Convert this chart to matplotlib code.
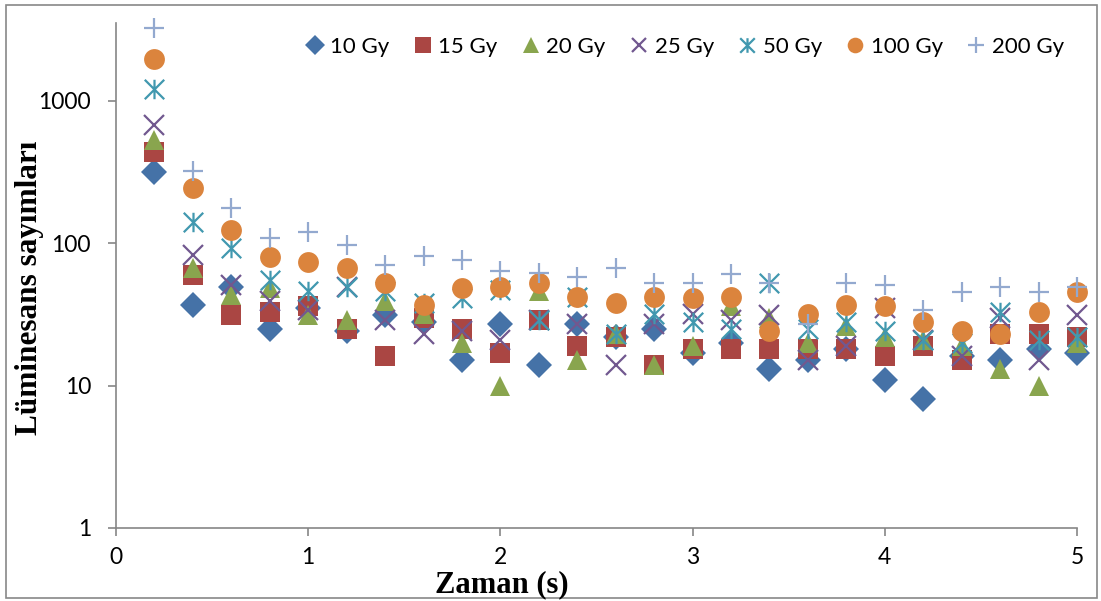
import matplotlib
matplotlib.use("Agg")
import matplotlib.pyplot as plt
from matplotlib.path import Path
from matplotlib.patches import Rectangle

# time axis (s)
time_s = [0.2, 0.4, 0.6, 0.8, 1.0, 1.2, 1.4, 1.6, 1.8, 2.0, 2.2, 2.4, 2.6,
          2.8, 3.0, 3.2, 3.4, 3.6, 3.8, 4.0, 4.2, 4.4, 4.6, 4.8, 5.0]

# luminescence counts per dose
gy10 = [316, 37, 49, 25, 35, 24, 31, 28, 15, 27, 14, 27, 22,
        25, 17, 20, 13, 15, 18, 11, 8, 16, 15, 18, 17]
gy15 = [437, 60, 31, 33, 36, 25, 16, 30, 25, 17, 29, 19, 22,
        14, 18, 18, 18, 18, 18, 16, 19, 15, 23, 23, 22]
gy20 = [528, 67, 43, 48, 31, 29, 39, 32, 20, 10, 46, 15, 23,
        14, 19, 36, 30, 20, 26, 22, 21, 19, 13, 10, 20]
gy25 = [673, 82, 51, 39, 34, 49, 29, 23, 24, 21, 29, 27, 14,
        27, 32, 29, 31, 15, 19, 35, 21, 16, 30, 15, 31]
gy50 = [1199, 141, 92, 55, 46, 49, 46, 38, 41, 47, 29, 42, 23,
        32, 28, 25, 52, 25, 28, 24, 21, 20, 33, 21, 22]
gy100 = [1955, 242, 123, 80, 73, 67, 52, 37, 48, 49, 52, 42, 38,
         42, 41, 42, 24, 32, 37, 36, 28, 24, 23, 33, 45]
gy200 = [3210, 322, 175, 108, 120, 97, 70, 81, 76, 64, 62, 58, 67,
         52, 52, 61, 52, 27, 52, 51, 34, 45, 49, 45, 49]

labels = ["10 Gy", "15 Gy", "20 Gy", "25 Gy", "50 Gy", "100 Gy", "200 Gy"]
y_ticks = [1, 10, 100, 1000]
x_ticks = [0, 1, 2, 3, 4, 5]

# Excel style asterisk: vertical bar plus an X
star = Path([(0, -1), (0, 1), (-1, -1), (1, 1), (-1, 1), (1, -1)],
            [Path.MOVETO, Path.LINETO, Path.MOVETO, Path.LINETO,
             Path.MOVETO, Path.LINETO])

styles = [
    dict(marker="D", color="#4572A7", ms=13),
    dict(marker="s", color="#AA4643", ms=14.5),
    dict(marker="^", color="#89A54E", ms=15),
    dict(marker="x", color="#71588F", ms=14, mew=1.6),
    dict(marker=star, color="#4198AF", ms=14, mew=1.6),
    dict(marker="o", color="#DB843D", ms=15),
    dict(marker="+", color="#93A9CF", ms=15, mew=1.6),
]

W, H = 1101, 601
fig = plt.figure(figsize=(W / 100, H / 100), dpi=100)
ax = fig.add_axes([116 / W, 1 - 528 / H, (1077 - 116) / W, (528 - 23) / H])

series = [gy10, gy15, gy20, gy25, gy50, gy100, gy200]
handles = []
for vals, lab, st in zip(series, labels, styles):
    h, = ax.plot(time_s, vals, linestyle="none", marker=st["marker"],
                 color=st["color"], markersize=st["ms"],
                 markeredgewidth=st.get("mew", 0), label=lab, clip_on=False)
    handles.append(h)

ax.set_yscale("log")
ax.set_ylim(1, 3500)
ax.set_xlim(0, 5)
ax.set_yticks(y_ticks)
ax.set_yticklabels([str(t) for t in y_ticks])
ax.yaxis.set_minor_locator(matplotlib.ticker.NullLocator())
ax.set_xticks(x_ticks)
ax.set_xticklabels([str(t) for t in x_ticks])

for s in ["top", "right"]:
    ax.spines[s].set_visible(False)
for s in ["left", "bottom"]:
    ax.spines[s].set_color("#868686")
    ax.spines[s].set_linewidth(1.2)
ax.tick_params(axis="both", colors="#868686", length=6, width=1.2,
               direction="out", labelcolor="black", labelsize=16.5)
ax.tick_params(axis="y", pad=12)
ax.tick_params(axis="x", pad=8)
for t in ax.get_xticklabels() + ax.get_yticklabels():
    t.set_family("Lato")

leg = ax.legend(handles=handles, ncol=7, loc="center right",
                bbox_to_anchor=(1064 / W, 1 - 47 / H),
                bbox_transform=fig.transFigure, frameon=False,
                numpoints=1, handlelength=0.8, handletextpad=0.3,
                columnspacing=1.1, borderpad=0, borderaxespad=0,
                markerscale=0.75, prop={"family": "Lato", "size": 16})

fig.text(30 / W, 1 - 288 / H, "Lüminesans sayımları", rotation=90,
         ha="center", va="center", family="Liberation Serif",
         weight="bold", size=22.5)
fig.text(502 / W, 1 - 592 / H, "Zaman (s)", ha="center", va="baseline",
         family="Liberation Serif", weight="bold", size=22)

fig.patches.append(Rectangle((6 / W, 3 / H), (1097 - 6) / W, (596 - 3) / H,
                             transform=fig.transFigure, fill=False,
                             edgecolor="#888888", linewidth=1.2))

fig.savefig("out.png", dpi=100)
